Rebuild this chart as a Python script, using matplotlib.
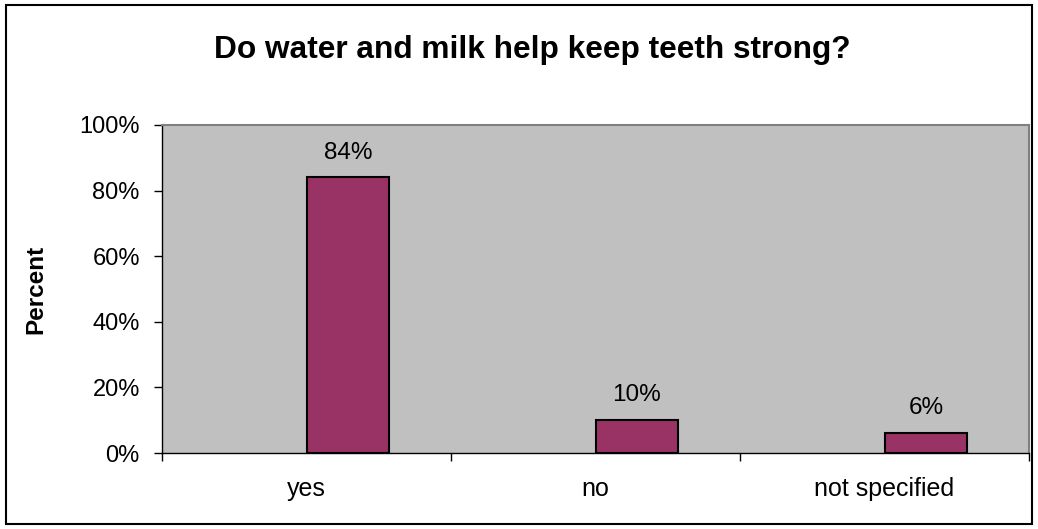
import numpy as np
import matplotlib
matplotlib.use("Agg")
import matplotlib.pyplot as plt
from matplotlib.patches import Rectangle
from matplotlib.ticker import FixedLocator, PercentFormatter

# chart data
categories = ["yes", "no", "not specified"]
percents = [84, 10, 6]
y_ticks = [0, 20, 40, 60, 80, 100]

plt.rcParams['font.family'] = ['Liberation Sans', 'DejaVu Sans']

fig = plt.figure(figsize=(10.38, 5.29), dpi=100)
ax = fig.add_axes([162 / 1038, 1 - 453 / 529, (1029 - 162) / 1038, (453 - 125) / 529])
ax.set_facecolor("#C0C0C0")

x = np.arange(len(categories))
bar_w = 0.287
bars = ax.bar(x, percents, width=bar_w, align="edge", color="#993366",
              edgecolor="black", linewidth=1.5, zorder=3)

# data labels above the bars
for rect, val in zip(bars, percents):
    ax.annotate(f"{val}%", (rect.get_x() + rect.get_width() / 2, rect.get_height()),
                xytext=(0, 10), textcoords="offset points", ha="center", va="bottom",
                fontsize=17.5)

ax.set_xlim(-0.5, len(categories) - 0.5)
ax.set_ylim(0, 100)
ax.set_yticks(y_ticks)
ax.yaxis.set_major_formatter(PercentFormatter(decimals=0))
ax.tick_params(axis="y", direction="out", length=6, width=1, pad=10, labelsize=17)

# category labels at centers, ticks at category boundaries
ax.set_xticks(x)
ax.set_xticklabels(categories, fontsize=18)
ax.tick_params(axis="x", which="major", length=0, pad=17)
ax.xaxis.set_minor_locator(FixedLocator(np.arange(len(categories) + 1) - 0.5))
ax.tick_params(axis="x", which="minor", direction="out", length=6, width=1)

for side in ["top", "right"]:
    ax.spines[side].set_color("#808080")
    ax.spines[side].set_linewidth(1.5)
for side in ["left", "bottom"]:
    ax.spines[side].set_color("black")
    ax.spines[side].set_linewidth(1)

ax.set_ylabel("Percent", fontsize=17.5, fontweight="bold")
ax.yaxis.set_label_coords(-(162 - 47) / 867, 0.5)

fig.text(532 / 1038, 1 - 50 / 529, "Do water and milk help keep teeth strong?",
         ha="center", va="center", fontsize=22.8, fontweight="bold")

# chart border
fig.patches.append(Rectangle((6 / 1038, 1 - 524 / 529), (1032 - 6) / 1038, (524 - 5) / 529,
                             transform=fig.transFigure, fill=False,
                             edgecolor="black", linewidth=1.5))

fig.savefig("out.png", dpi=100)
